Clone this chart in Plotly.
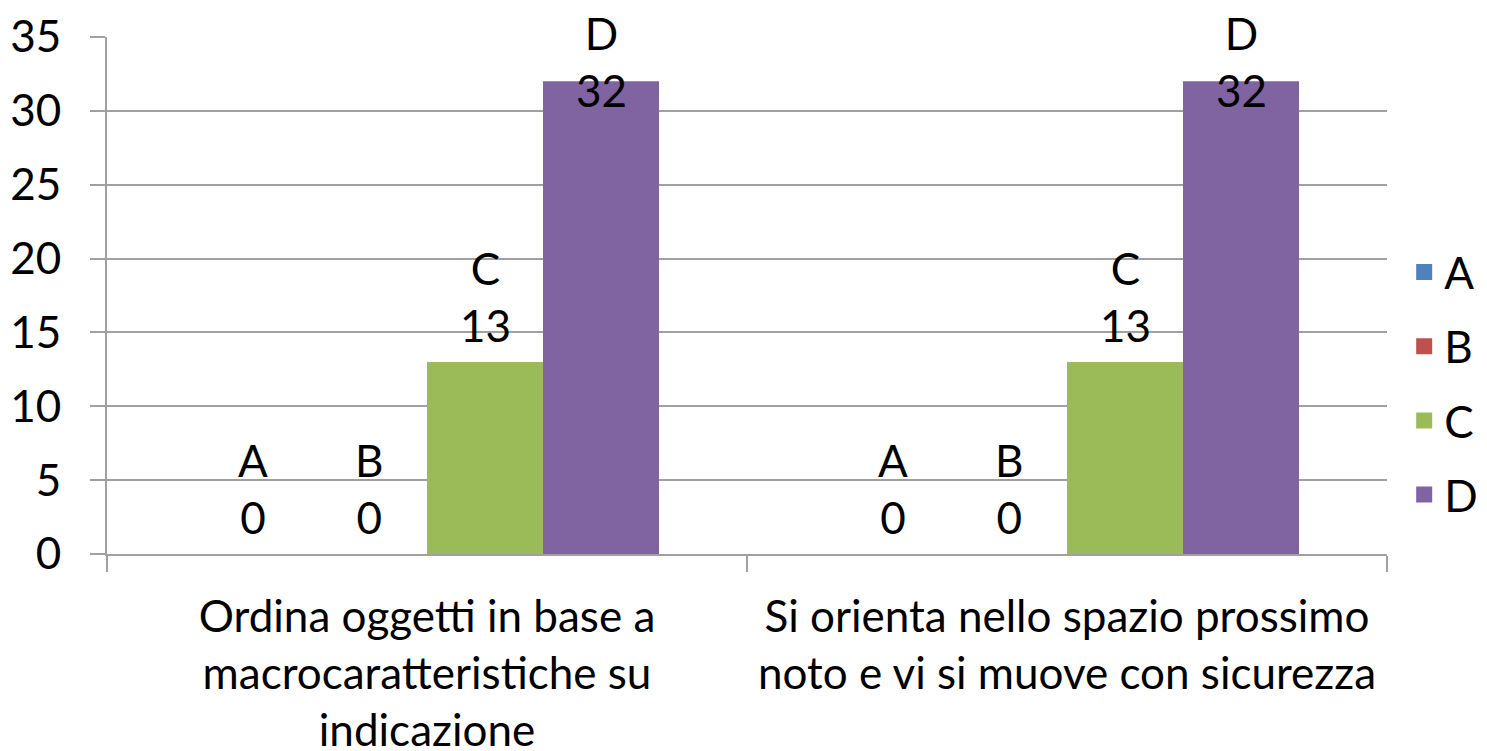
import plotly.graph_objects as go

# Dati del grafico
categorie = ['Ordina oggetti in base a<br>macrocaratteristiche su<br>indicazione',
             'Si orienta nello spazio prossimo<br>noto e vi si muove con sicurezza']
serie = ['A', 'B', 'C', 'D']
valori = {'A': [0, 0],
          'B': [0, 0],
          'C': [13, 13],
          'D': [32, 32]}
colori = {'A': '#4F81BD', 'B': '#C0504D', 'C': '#9BBB59', 'D': '#8064A2'}

FONTE = 'Lato, Calibri, sans-serif'
DIM = 44
Y_MAX = 35
BARGAP = 0.275
ALTEZZA_ETICHETTA = 6.1  # altezza del blocco etichetta in unità y
GRIGIO = '#a0a0a0'

fig = go.Figure()
for s in serie:
    fig.add_bar(x=categorie, y=valori[s], name=s, marker_color=colori[s],
                marker_line_width=0, showlegend=False)
# voci di legenda con quadrati più grandi
for s in serie:
    fig.add_scatter(x=[None], y=[None], name=s, mode='markers',
                    marker=dict(symbol='square', size=16, color=colori[s]),
                    legendgroup=s)

# etichette "serie / valore" sopra le barre
w = (1 - BARGAP) / len(serie)
for i, s in enumerate(serie):
    for g, v in enumerate(valori[s]):
        fig.add_annotation(x=g + (i - (len(serie) - 1) / 2) * w,
                           y=min(v, Y_MAX - ALTEZZA_ETICHETTA),
                           text=f'{s}<br>{v}', showarrow=False,
                           yanchor='bottom', yshift=10, borderpad=0,
                           font=dict(family=FONTE, size=DIM, color='black'))

# la pagina ha 8px di margine nel body: figura ridotta di 8px
fig.update_layout(
    width=1479, height=743,
    margin=dict(l=99, r=100, t=29, b=197),
    plot_bgcolor='white', paper_bgcolor='white',
    barmode='group', bargap=BARGAP, bargroupgap=0,
    font=dict(family=FONTE, size=DIM, color='black'),
    legend=dict(xref='container', yref='paper', x=0.944, y=0.33,
                xanchor='left', yanchor='middle',
                font=dict(size=DIM), tracegroupgap=14, itemwidth=30),
    showlegend=True,
)
fig.update_yaxes(range=[0, Y_MAX], dtick=5, showgrid=True, gridcolor=GRIGIO, gridwidth=2,
                 showline=True, linecolor=GRIGIO, linewidth=2,
                 ticks='outside', ticklen=15, tickcolor=GRIGIO, tickwidth=2,
                 ticklabelstandoff=20, zeroline=False, automargin=False)
fig.update_xaxes(showline=True, linecolor=GRIGIO, linewidth=2,
                 ticks='outside', tickson='boundaries', ticklen=16,
                 tickcolor=GRIGIO, tickwidth=2, showgrid=False,
                 ticklabelstandoff=23, automargin=False)

fig.write_html('out.html')
